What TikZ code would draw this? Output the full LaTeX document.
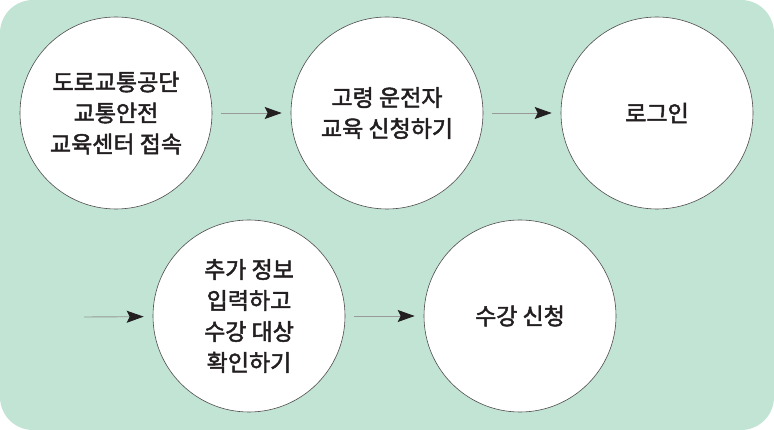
\documentclass[tikz,border=0pt]{standalone}
\usepackage{fontspec}
\setmainfont{Noto Sans CJK KR}[FakeBold=2]
\usetikzlibrary{arrows.meta}
\definecolor{mint}{HTML}{C1E4D5}
\definecolor{ink}{HTML}{231F20}
\tikzset{
 stage/.style = {circle, draw=ink!80, line width=0.6pt, fill=white, minimum size=192pt,
   inner sep=0pt, align=center, text=ink, font=\fontsize{23}{31}\selectfont},
 flow/.style = {draw=black!40, line width=0.9pt, shorten <=9pt, shorten >=9pt,
   -{Stealth[length=17pt, width=12pt, inset=3pt, color=ink]}}
}
\begin{document}
\begin{tikzpicture}[x=1pt, y=-1pt]
 \fill[mint, rounded corners=33pt] (0,0) rectangle (774,430);
 \node[stage] (visit) at (116,113) {도로교통공단\\교통안전\\교육센터 접속};
 \node[stage] (apply) at (387,113) {고령 운전자\\교육 신청하기};
 \node[stage] (login) at (657,113) {로그인};
 \node[stage] (check) at (249,316) {추가 정보\\입력하고\\수강 대상\\확인하기};
 \node[stage] (enrol) at (520,316) {수강 신청};
 \coordinate (wrap) at (84,317);
 \draw[flow] (visit) -- (apply);
 \draw[flow] (apply) -- (login);
 \draw[flow, shorten <=0pt] (wrap) -- (check);
 \draw[flow] (check) -- (enrol);
\end{tikzpicture}
\end{document}
